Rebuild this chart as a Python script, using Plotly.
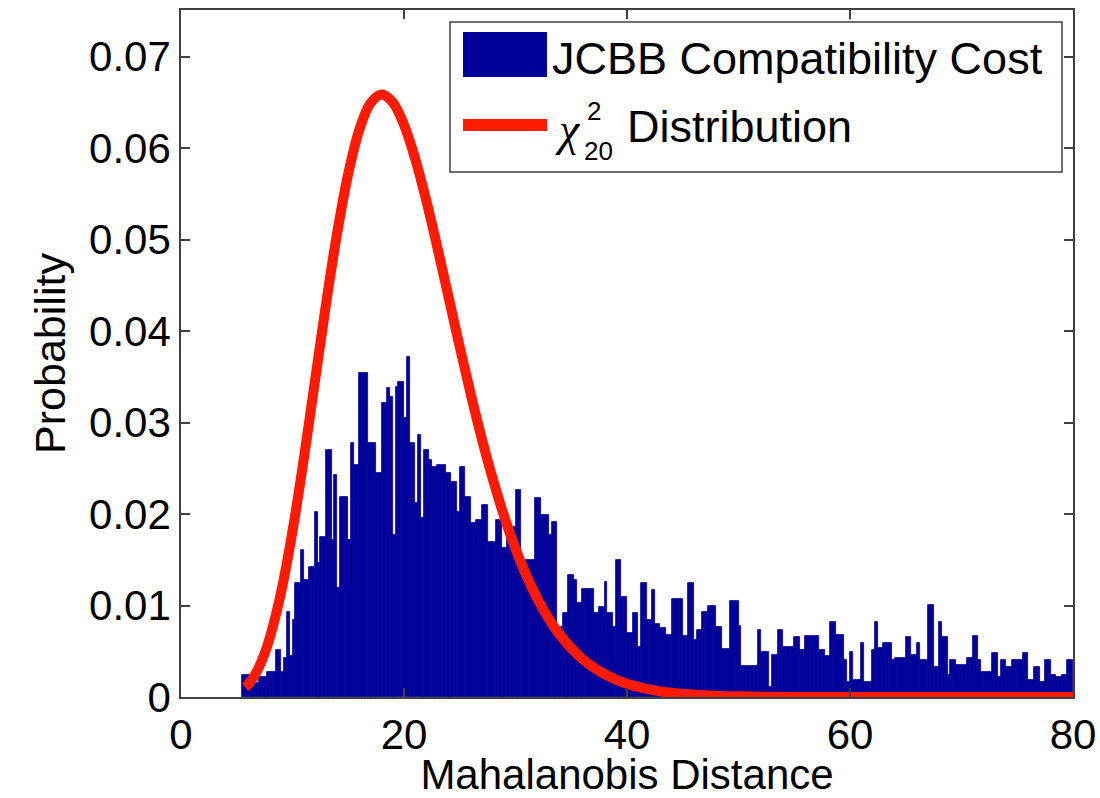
import numpy as np
import plotly.graph_objects as go

# Histogram of the JCBB compatibility cost (bin width 0.25, first bin starts at 5.5)
bin_start = 5.5
bin_width = 0.25
jcbb_prob = [
    0.0024, 0.0024, 0.0024, 0.0010, 0.0015, 0.0015, 0.0022, 0.0022, 0.0022, 0.0027,
    0.0027, 0.0027, 0.0051, 0.0051, 0.0027, 0.0043, 0.0093, 0.0045, 0.0084, 0.0125,
    0.0125, 0.0161, 0.0128, 0.0128, 0.0142, 0.0142, 0.0202, 0.0146, 0.0175, 0.0175,
    0.0270, 0.0270, 0.0172, 0.0243, 0.0119, 0.0219, 0.0219, 0.0219, 0.0172, 0.0278,
    0.0254, 0.0254, 0.0354, 0.0354, 0.0354, 0.0278, 0.0278, 0.0278, 0.0245, 0.0245,
    0.0321, 0.0321, 0.0338, 0.0328, 0.0177, 0.0339, 0.0344, 0.0344, 0.0305, 0.0372,
    0.0278, 0.0278, 0.0212, 0.0286, 0.0196, 0.0270, 0.0270, 0.0259, 0.0251, 0.0251,
    0.0254, 0.0254, 0.0254, 0.0245, 0.0245, 0.0235, 0.0235, 0.0202, 0.0251, 0.0251,
    0.0219, 0.0219, 0.0190, 0.0190, 0.0193, 0.0193, 0.0210, 0.0210, 0.0169, 0.0169,
    0.0169, 0.0193, 0.0193, 0.0163, 0.0163, 0.0186, 0.0186, 0.0186, 0.0226, 0.0226,
    0.0150, 0.0150, 0.0150, 0.0150, 0.0150, 0.0217, 0.0217, 0.0199, 0.0199, 0.0199,
    0.0177, 0.0191, 0.0191, 0.0077, 0.0077, 0.0092, 0.0092, 0.0133, 0.0133, 0.0128,
    0.0103, 0.0103, 0.0118, 0.0118, 0.0118, 0.0118, 0.0092, 0.0092, 0.0098, 0.0098,
    0.0126, 0.0092, 0.0092, 0.0077, 0.0150, 0.0150, 0.0109, 0.0109, 0.0070, 0.0070,
    0.0092, 0.0092, 0.0055, 0.0125, 0.0125, 0.0084, 0.0084, 0.0117, 0.0080, 0.0080,
    0.0075, 0.0075, 0.0068, 0.0068, 0.0107, 0.0107, 0.0107, 0.0107, 0.0067, 0.0067,
    0.0125, 0.0125, 0.0062, 0.0073, 0.0073, 0.0093, 0.0093, 0.0100, 0.0100, 0.0100,
    0.0076, 0.0076, 0.0053, 0.0053, 0.0053, 0.0105, 0.0105, 0.0105, 0.0078, 0.0034,
    0.0034, 0.0034, 0.0034, 0.0034, 0.0034, 0.0073, 0.0049, 0.0049, 0.0049, 0.0011,
    0.0046, 0.0046, 0.0073, 0.0073, 0.0055, 0.0055, 0.0055, 0.0055, 0.0066, 0.0066,
    0.0051, 0.0051, 0.0067, 0.0067, 0.0067, 0.0067, 0.0067, 0.0051, 0.0051, 0.0045,
    0.0045, 0.0082, 0.0082, 0.0068, 0.0068, 0.0068, 0.0040, 0.0016, 0.0049, 0.0019,
    0.0019, 0.0019, 0.0059, 0.0016, 0.0016, 0.0016, 0.0051, 0.0082, 0.0054, 0.0054,
    0.0059, 0.0059, 0.0059, 0.0040, 0.0043, 0.0043, 0.0043, 0.0043, 0.0066, 0.0066,
    0.0046, 0.0046, 0.0059, 0.0040, 0.0040, 0.0040, 0.0101, 0.0101, 0.0033, 0.0033,
    0.0082, 0.0066, 0.0066, 0.0024, 0.0040, 0.0040, 0.0035, 0.0035, 0.0035, 0.0035,
    0.0043, 0.0043, 0.0067, 0.0067, 0.0040, 0.0027, 0.0027, 0.0027, 0.0027, 0.0048,
    0.0048, 0.0022, 0.0040, 0.0040, 0.0033, 0.0033, 0.0040, 0.0040, 0.0040, 0.0040,
    0.0048, 0.0048, 0.0019, 0.0019, 0.0033, 0.0033, 0.0016, 0.0016, 0.0040, 0.0040,
    0.0024, 0.0024, 0.0022, 0.0022, 0.0024, 0.0024, 0.0040, 0.0040,
]

# Chi-square (20 dof) density
chi2_x = [5.75, 6, 6.5, 7, 7.5, 8, 9, 10, 11, 12, 13, 14, 15, 16, 17, 18, 19, 20,
          21, 22, 23, 24, 25, 26, 27, 28, 29, 30, 31, 32, 33, 34, 35, 36, 37, 38,
          39, 40, 41, 42, 43, 44, 45, 46, 47, 48, 50, 55, 60, 70, 80]
chi2_y = [0.00109, 0.00135, 0.00216, 0.00328, 0.00475, 0.00662, 0.01158, 0.01813,
          0.02593, 0.03442, 0.04291, 0.05070, 0.05722, 0.06204, 0.06493, 0.06587,
          0.06500, 0.06255, 0.05886, 0.05426, 0.04910, 0.04368, 0.03826, 0.03303,
          0.02813, 0.02367, 0.01969, 0.01620, 0.01320, 0.01066, 0.00853, 0.00676,
          0.00533, 0.00416, 0.00323, 0.00249, 0.00191, 0.00145, 0.00110, 0.00083,
          0.00062, 0.00046, 0.00035, 0.00026, 0.00019, 0.00014, 0.00007, 0.00001,
          0.0, 0.0, 0.0]

x_ticks = [0, 20, 40, 60, 80]
y_ticks = [0, 0.01, 0.02, 0.03, 0.04, 0.05, 0.06, 0.07]
y_tick_text = ["0", "0.01", "0.02", "0.03", "0.04", "0.05", "0.06", "0.07"]

series_names = ["JCBB Compatibility Cost", "Distribution"]

BLUE = "#000099"
RED = "#ff1a00"
AXIS = "#404040"
FONT = "Liberation Sans, Arial, sans-serif"

bin_centers = bin_start + bin_width * (np.arange(len(jcbb_prob)) + 0.5)

fig = go.Figure()
fig.add_trace(go.Bar(
    x=bin_centers, y=jcbb_prob, width=bin_width,
    marker=dict(color=BLUE, line=dict(width=0.8, color=BLUE)),
    name=series_names[0], showlegend=False,
))
fig.add_trace(go.Scatter(
    x=chi2_x, y=chi2_y, mode="lines",
    line=dict(color=RED, width=10, shape="spline"),
    name=series_names[1], showlegend=False,
))

# plot area in pixels
L, R, T, B = 181, 1073, 10, 697


def px(x):
    return (x - L) / (R - L)


def py(y):
    return (B - y) / (B - T)


shapes = [
    dict(type="rect", xref="paper", yref="paper", x0=px(450), x1=px(1062),
         y0=py(172), y1=py(22), line=dict(color=AXIS, width=1.5),
         fillcolor="white", layer="above"),
    dict(type="rect", xref="paper", yref="paper", x0=px(463), x1=px(547),
         y0=py(77), y1=py(32), line=dict(width=0), fillcolor=BLUE, layer="above"),
    dict(type="line", xref="paper", yref="paper", x0=px(463), x1=px(547),
         y0=py(125), y1=py(125), line=dict(color=RED, width=12), layer="above"),
]

legend_font = dict(family=FONT, size=45, color="black")
annotations = [
    dict(xref="paper", yref="paper", x=px(550), y=py(58), xanchor="left",
         yanchor="middle", text=series_names[0], showarrow=False, font=legend_font),
    dict(xref="paper", yref="paper", x=px(553), y=py(130), xanchor="left",
         yanchor="middle", text="<i>χ</i>", showarrow=False,
         font=dict(family="Liberation Serif, serif", size=46, color="black")),
    dict(xref="paper", yref="paper", x=px(585), y=py(111), xanchor="left",
         yanchor="middle", text="2", showarrow=False,
         font=dict(family=FONT, size=26, color="black")),
    dict(xref="paper", yref="paper", x=px(582), y=py(151), xanchor="left",
         yanchor="middle", text="20", showarrow=False,
         font=dict(family=FONT, size=26, color="black")),
    dict(xref="paper", yref="paper", x=px(625), y=py(127), xanchor="left",
         yanchor="middle", text=series_names[1], showarrow=False, font=legend_font),
]

fig.update_layout(
    width=1100, height=798,
    margin=dict(l=L, r=1100 - R, t=T, b=798 - B, autoexpand=False),
    paper_bgcolor="white", plot_bgcolor="white",
    bargap=0, barmode="overlay",
    font=dict(family=FONT, size=42, color="black"),
    shapes=shapes, annotations=annotations,
    showlegend=False,
)
fig.update_xaxes(
    range=[0, 80], tickvals=x_ticks, ticks="inside", ticklen=9, tickwidth=1.5,
    tickcolor=AXIS, showline=True, linecolor=AXIS, linewidth=1.5, mirror="ticks",
    showgrid=False, zeroline=False, tickfont=dict(size=42),
    title=dict(text="Mahalanobis Distance", font=dict(size=42), standoff=9),
)
fig.update_yaxes(
    range=[0, 0.0751], tickvals=y_ticks, ticktext=y_tick_text, ticks="inside",
    ticklen=9, tickwidth=1.5, tickcolor=AXIS, showline=True, linecolor=AXIS,
    linewidth=1.5, mirror="ticks", showgrid=False, zeroline=False,
    tickfont=dict(size=42),
    title=dict(text="Probability", font=dict(size=43), standoff=10),
)

fig.write_html("out.html")
